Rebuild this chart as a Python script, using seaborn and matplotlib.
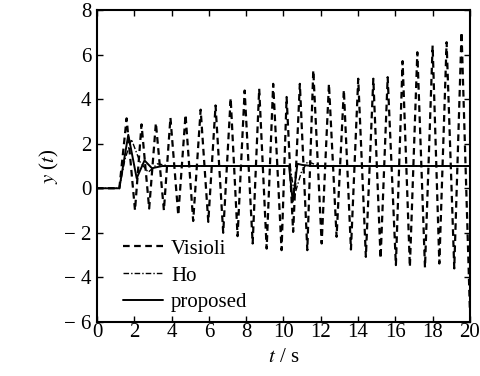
import matplotlib
matplotlib.use("Agg")
import matplotlib.pyplot as plt
import seaborn as sns
import pandas as pd

# Visioli: peaks / troughs
visioli_t = [0, 1.2, 1.59, 2.04, 2.39, 2.8, 3.16, 3.59, 3.94, 4.36, 4.75, 5.16,
             5.56, 5.97, 6.36, 6.77, 7.17, 7.54, 7.92, 8.35, 8.70, 9.10, 9.45,
             9.90, 10.17, 10.52, 10.88, 11.28, 11.6, 12.05, 12.44, 12.85, 13.24,
             13.62, 14.01, 14.42, 14.82, 15.21, 15.59, 16.03, 16.39, 16.78,
             17.18, 17.59, 18.0, 18.36, 18.75, 19.16, 19.55, 20.0]
visioli_y = [0, 0, 3.14, -0.99, 2.87, -0.91, 2.93, -0.99, 3.17, -1.21, 3.30, -1.47,
             3.53, -1.51, 3.72, -2.0, 4.05, -2.15, 4.39, -2.48, 4.47, -2.71, 4.69,
             -2.78, 4.1, -1.96, 4.69, -2.78, 5.3, -2.48, 4.69, -2.18, 4.42,
             -2.75, 4.92, -3.08, 4.92, -3.15, 4.99, -3.45, 5.71, -3.53,
             6.11, -3.56, 6.41, -3.38, 6.56, -3.6, 7.01, -5.5]

ho_t = [0, 1.2, 1.5, 1.85, 2.3, 2.75, 3.25, 3.9, 10.35, 10.6, 10.95, 11.3, 11.9, 20]
ho_y = [0, 0, 1.3, 2.2, 1.2, 0.72, 1.1, 1.0, 1.0, -0.3, 0.7, 1.2, 1.0, 1.0]

prop_t = [0, 1.2, 1.68, 2.13, 2.55, 2.95, 3.5, 10.3, 10.5, 10.75, 11.0, 11.5, 20]
prop_y = [0, 0, 2.4, 0.45, 1.25, 0.9, 1.0, 1.0, -0.6, 1.1, 1.05, 1.0, 1.0]

x_ticks = [0, 2, 4, 6, 8, 10, 12, 14, 16, 18, 20]
y_ticks = [-6, -4, -2, 0, 2, 4, 6, 8]
y_labels = ["\u2212 6", "\u2212 4", "\u2212 2", "0", "2", "4", "6", "8"]

sns.set_style("ticks")
plt.rcParams["font.family"] = ["Liberation Serif", "DejaVu Serif"]
plt.rcParams["mathtext.fontset"] = "stix"
for k in ["text.color", "axes.labelcolor", "xtick.color", "ytick.color", "axes.edgecolor"]:
    plt.rcParams[k] = "black"

fig = plt.figure(figsize=(4.8, 3.76), dpi=100)
ax = fig.add_axes([0.202, 0.144, 0.777, 0.829])

vis = pd.DataFrame({"t": visioli_t, "y": visioli_y})
ho = pd.DataFrame({"t": ho_t, "y": ho_y})
prop = pd.DataFrame({"t": prop_t, "y": prop_y})

sns.lineplot(data=vis, x="t", y="y", ax=ax, color="black", lw=1.6,
             linestyle=(0, (3, 2)), sort=False, estimator=None, label="Visioli")
sns.lineplot(data=ho, x="t", y="y", ax=ax, color="black", lw=1.0,
             linestyle=(0, (4, 1.5, 1, 1.5)), sort=False, estimator=None, label="Ho")
sns.lineplot(data=prop, x="t", y="y", ax=ax, color="black", lw=1.4,
             sort=False, estimator=None, label="proposed")

ax.set_xlim(0, 20)
ax.set_ylim(-6, 8)
ax.set_xticks(x_ticks)
ax.set_yticks(y_ticks)
ax.set_yticklabels(y_labels)
ax.tick_params(direction="in", top=True, right=True, labelsize=15, length=4,
               width=1.0)
ax.tick_params(axis="x", pad=1)
ax.tick_params(axis="y", pad=4)
for s in ax.spines.values():
    s.set_linewidth(1.5)

ax.set_xlabel(r"$t$ / s", fontsize=15, labelpad=4)
ax.set_ylabel(r"$y$ ($t$)", fontsize=15, labelpad=2)

ax.legend(loc="lower left", bbox_to_anchor=(0.02, -0.03), frameon=False,
          fontsize=15, handlelength=1.9, handletextpad=0.4, labelspacing=0.35)

fig.savefig("out.png", dpi=100)
